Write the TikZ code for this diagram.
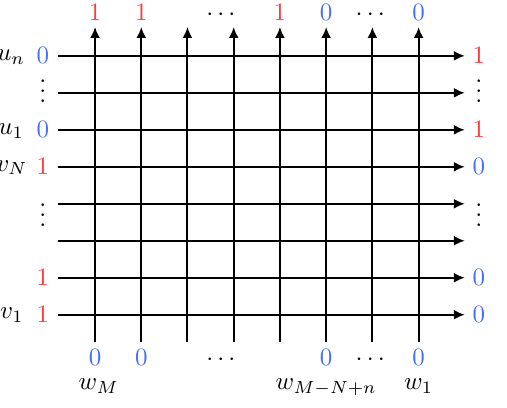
\documentclass[tikz,border=0pt]{standalone}
\usepackage{amsmath, amssymb}
\usepackage{tikz}
\usetikzlibrary{arrows.meta}
\usepackage{xcolor}
\definecolor{onered}{RGB}{250,60,60}
\definecolor{zeroblue}{RGB}{70,110,250}
\tikzset{
  line/.style={thick, -{Latex[length=4.4pt, width=4pt]}},
  lbl/.style={inner sep=0pt},
  rd/.style={lbl, text=onered},
  bl/.style={lbl, text=zeroblue}
}

\begin{document}
\begin{tikzpicture}[x=0.52cm, y=0.52cm]
\useasboundingbox (-2.57,-2.51) rectangle (11.14,8.51);
% grid
\foreach \j in {0,...,7} {
  \coordinate (a\j) at (-1,\j);
  \coordinate (b\j) at (10,\j);
  \draw[line] (a\j) -- (b\j);
}
\foreach \i in {0,...,7} {
  \coordinate (c\i) at (1.25*\i,-0.73);
  \coordinate (d\i) at (1.25*\i,7.78);
  \draw[line] (c\i) -- (d\i);
}
% left side
\node[lbl, anchor=base] (un) at (-2.27,6.87) {$u_n$};
\node[bl] (in7) at (-1.41,7) {$0$};
\node[lbl, anchor=base] (ldots1) at (-1.41,5.73) {$\vdots$};
\node[lbl, anchor=base] (u1) at (-2.27,4.87) {$u_1$};
\node[bl] (in5) at (-1.41,5) {$0$};
\node[lbl, anchor=base] (vN) at (-2.25,3.88) {$v_N$};
\node[rd] (in4) at (-1.41,4) {$1$};
\node[lbl, anchor=base] (ldots2) at (-1.41,2.38) {$\vdots$};
\node[rd] (in1) at (-1.41,1) {$1$};
\node[lbl, anchor=base] (v1) at (-2.25,-0.1) {$v_1$};
\node[rd] (in0) at (-1.41,0) {$1$};
% right side
\node[rd] (out7) at (10.38,7) {$1$};
\node[lbl, anchor=base] (rdots1) at (10.38,5.73) {$\vdots$};
\node[rd] (out5) at (10.38,5) {$1$};
\node[bl] (out4) at (10.38,4) {$0$};
\node[lbl, anchor=base] (rdots2) at (10.38,2.38) {$\vdots$};
\node[bl] (out1) at (10.38,1) {$0$};
\node[bl] (out0) at (10.38,0) {$0$};
% top
\node[rd, anchor=base] (top0) at (0,7.95) {$1$};
\node[rd, anchor=base] (top1) at (1.25,7.95) {$1$};
\node[lbl, anchor=base] (tdots1) at (3.46,7.95) {$\cdots$};
\node[rd, anchor=base] (top4) at (5,7.95) {$1$};
\node[bl, anchor=base] (top5) at (6.25,7.95) {$0$};
\node[lbl, anchor=base] (tdots2) at (7.5,7.95) {$\cdots$};
\node[bl, anchor=base] (top7) at (8.75,7.95) {$0$};
% bottom
\node[bl, anchor=base] (bot0) at (0,-1.37) {$0$};
\node[bl, anchor=base] (bot1) at (1.25,-1.37) {$0$};
\node[lbl, anchor=base] (bdots1) at (3.46,-1.37) {$\cdots$};
\node[bl, anchor=base] (bot5) at (6.25,-1.37) {$0$};
\node[lbl, anchor=base] (bdots2) at (7.5,-1.37) {$\cdots$};
\node[bl, anchor=base] (bot7) at (8.75,-1.37) {$0$};
\node[lbl, anchor=base] (wM) at (0.1,-2.03) {$w_M$};
\node[lbl, anchor=base] (wMNn) at (6.25,-2.03) {$w_{M-N+n}$};
\node[lbl, anchor=base] (w1) at (8.75,-2.03) {$w_1$};
\end{tikzpicture}
\end{document}
